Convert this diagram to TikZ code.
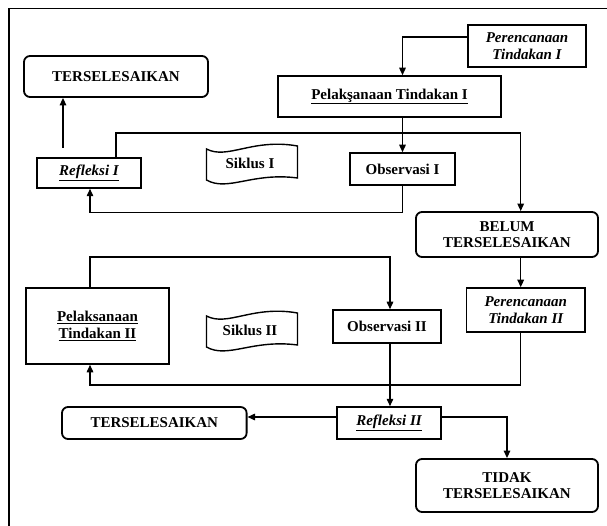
\documentclass[tikz,border=0pt]{standalone}
\usepackage{fontspec}
\setmainfont{Liberation Serif}
\usetikzlibrary{arrows.meta}
\begin{document}
\begin{tikzpicture}[x=1pt,y=-1pt,
  every node/.style={font=\fontsize{15}{16.5}\selectfont\bfseries, align=center, inner sep=0pt},
  box/.style={draw, line width=1.5pt},
  rbox/.style={draw, line width=1.8pt, rounded corners=6pt},
  arr/.style={line width=1.4pt, -{Triangle[length=7.5pt,width=6.5pt]}},
  wave/.pic={\draw[line width=1.4pt] (-46,-17) .. controls (-25,-6) and (0,-28) .. (45,-20) -- (45,12) .. controls (0,6) and (-25,26) .. (-46,14) -- cycle;}
]
\useasboundingbox (0,0) rectangle (607,526);
\fill[white] (0,0) rectangle (607,526);
\draw[line width=1.3pt] (9,526) -- (9,8.5) -- (607,8.5);

\node[box, minimum width=118pt, minimum height=42pt] (pren1) at (527,46) {\itshape Perencanaan\\\itshape Tindakan I};
\node[box, minimum width=223pt, minimum height=41pt] (pel1) at (389.5,96.5) {\underline{Pelakşanaan Tindakan I}};
\node[rbox, minimum width=184pt, minimum height=41pt] (ters1) at (116,76.5) {TERSELESAIKAN};
\node[box, minimum width=104pt, minimum height=30pt] (ref1) at (89,173) {\itshape\underline{Refleksi I}};
\pic at (252.5,166) {wave};
\node (sik1) at (250,163) {Siklus I};
\node[box, minimum width=105pt, minimum height=32pt] (obs1) at (402.5,169) {Observasi I};
\node[rbox, minimum width=182pt, minimum height=45pt] (belum) at (507,234.5) {BELUM\\TERSELESAIKAN};
\node[box, minimum width=118.5pt, minimum height=44pt] (pren2) at (525.75,310) {\itshape Perencanaan\\\itshape Tindakan II};
\node[box, minimum width=143pt, minimum height=76pt] (pel2) at (97.5,326) {\underline{Pelaksanaan}\\\underline{Tindakan II}};
\pic at (252.5,333) {wave};
\node (sik2) at (250,330) {Siklus II};
\node[box, minimum width=108pt, minimum height=33pt] (obs2) at (387,326.5) {Observasi II};
\node[box, minimum width=104pt, minimum height=32pt] (ref2) at (389,423) {\itshape\underline{Refleksi II}};
\node[rbox, minimum width=184.6pt, minimum height=32pt] (ters2) at (154.3,423) {TERSELESAIKAN};
\node[rbox, minimum width=182pt, minimum height=53pt] (tidak) at (507,485.5) {TIDAK\\TERSELESAIKAN};

\coordinate (c1) at (520.7,133);
\coordinate (c2) at (390,257);
\coordinate (c3) at (520.7,385);
\coordinate (lx) at (90,0);
\coordinate (r1a) at (63,148);

\draw[arr] ([yshift=9pt]pren1.west) -| (obs1.north |- pel1.north);
\draw[arr] (obs1.north |- pel1.south) -- (obs1.north);
\draw[arr] ([xshift=27pt]ref1.north) |- (c1) -- (c1 |- belum.north);
\draw[arr] (obs1.south) -- ++(0,27) -| (lx |- ref1.south);
\draw[arr] (r1a) -- (r1a |- ters1.south);
\draw[arr] (c1 |- belum.south) -- (c1 |- pren2.north);
\draw[arr] (lx |- pel2.north) |- (c2) -- (c2 |- obs2.north);
\draw[arr] (c1 |- pren2.south) -- (c3) -| (lx |- pel2.south);
\draw[arr] (c2 |- obs2.south) -- (c2 |- ref2.north);
\draw[arr] ([yshift=6pt]ref2.west) -- ([yshift=6pt]ters2.east);
\draw[arr] ([yshift=6pt]ref2.east) -| (tidak.north);
\end{tikzpicture}
\end{document}
